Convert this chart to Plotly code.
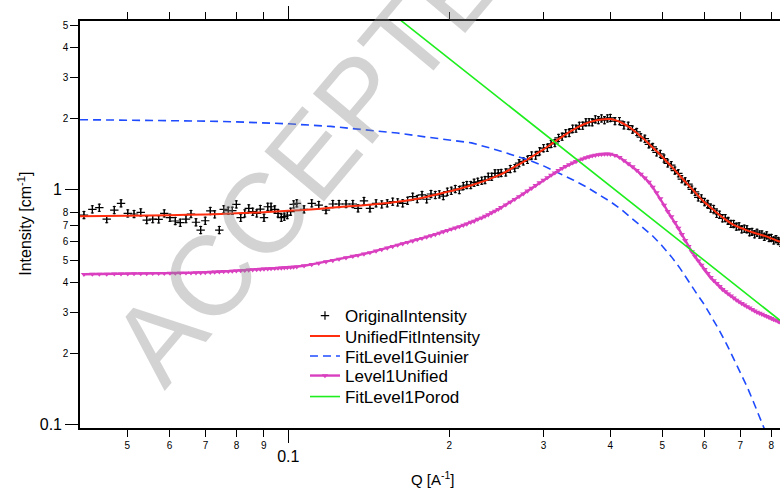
import math
import plotly.graph_objects as go

# ---------------- data ----------------
Q = [0.04149, 0.04302, 0.04433, 0.04576, 0.04728, 0.04867, 0.05010, 0.05147, 0.05298, 0.05436,
     0.05578, 0.05723, 0.05863, 0.06008, 0.06147, 0.06281, 0.06437, 0.06577, 0.06720, 0.06857,
     0.06994, 0.07147, 0.07284, 0.07430, 0.07572, 0.07723, 0.07858, 0.07995, 0.08147, 0.08290,
     0.08435, 0.08579, 0.08728, 0.08865, 0.09006, 0.09152, 0.09283, 0.09432, 0.09566, 0.09703,
     0.09829, 0.09957, 0.1010, 0.1023, 0.1037, 0.1070, 0.1106, 0.1140, 0.1176, 0.1211,
     0.1244, 0.1282, 0.1320, 0.1350, 0.1385, 0.1421, 0.1459, 0.1495, 0.1531, 0.1567,
     0.1601, 0.1636, 0.1671, 0.1708, 0.1742, 0.1778, 0.1814, 0.1848, 0.1883, 0.1916,
     0.1949, 0.1983, 0.2017, 0.2052, 0.2088, 0.2124, 0.2156, 0.2193, 0.2225, 0.2260,
     0.2299, 0.2332, 0.2365, 0.2400, 0.2434, 0.2469,
     0.250, 0.255, 0.260, 0.265, 0.270, 0.275, 0.280, 0.285, 0.290, 0.295,
     0.300, 0.305, 0.310, 0.315, 0.320, 0.325, 0.330, 0.335, 0.340, 0.345,
     0.350, 0.355, 0.360, 0.365, 0.370, 0.375, 0.380, 0.385, 0.390, 0.395, 0.400,
     0.408, 0.416, 0.424, 0.432, 0.440, 0.448, 0.456, 0.464, 0.472, 0.480,
     0.488, 0.496, 0.504, 0.512, 0.520, 0.528, 0.536, 0.544, 0.552, 0.560,
     0.568, 0.576, 0.584, 0.592, 0.600, 0.608, 0.616, 0.624, 0.632, 0.640,
     0.648, 0.656, 0.664, 0.672, 0.680, 0.688, 0.696, 0.704, 0.712, 0.720,
     0.728, 0.736, 0.744, 0.752, 0.760, 0.768, 0.776, 0.784, 0.792, 0.800,
     0.808, 0.816, 0.824, 0.832]

I_ORIG = [0.777, 0.822, 0.835, 0.747, 0.816, 0.872, 0.790, 0.785, 0.798, 0.740,
          0.747, 0.745, 0.790, 0.757, 0.733, 0.721, 0.747, 0.785, 0.724, 0.671,
          0.735, 0.809, 0.783, 0.671, 0.822, 0.811, 0.811, 0.863, 0.757, 0.790,
          0.830, 0.803, 0.790, 0.824, 0.757, 0.843, 0.843, 0.822, 0.790, 0.757,
          0.765, 0.777, 0.803, 0.863, 0.872, 0.822, 0.872, 0.857, 0.816, 0.866,
          0.866, 0.866, 0.866, 0.830, 0.892, 0.830, 0.872, 0.863, 0.872, 0.886,
          0.880, 0.872, 0.894, 0.930, 0.909, 0.946, 0.907, 0.955, 0.946, 0.952,
          0.936, 0.977, 0.986, 1.003, 0.993, 1.033, 1.043, 1.043, 1.067, 1.077,
          1.088, 1.095, 1.131, 1.131, 1.170, 1.170,
          1.174, 1.180, 1.220, 1.231, 1.292, 1.315, 1.336, 1.393, 1.392, 1.451,
          1.496, 1.503, 1.560, 1.574, 1.655, 1.675, 1.731, 1.737, 1.811, 1.813,
          1.863, 1.866, 1.929, 1.931, 1.930, 1.985, 1.970, 2.003, 1.969, 2.003, 2.012,
          1.951, 1.951, 1.872, 1.865, 1.796, 1.754, 1.666, 1.642, 1.554, 1.515,
          1.437, 1.415, 1.352, 1.289, 1.267, 1.202, 1.170, 1.105, 1.082, 1.052,
          0.998, 0.975, 0.924, 0.915, 0.882, 0.867, 0.829, 0.825, 0.787, 0.780,
          0.753, 0.754, 0.734, 0.713, 0.712, 0.694, 0.696, 0.676, 0.680, 0.676,
          0.657, 0.659, 0.644, 0.653, 0.642, 0.643, 0.628, 0.637, 0.621, 0.621,
          0.606, 0.614, 0.603, 0.593]

I_LEVEL1 = [0.435, 0.436, 0.436, 0.436, 0.437, 0.437, 0.437, 0.438, 0.438, 0.438,
            0.439, 0.439, 0.439, 0.440, 0.440, 0.441, 0.441, 0.441, 0.442, 0.442,
            0.443, 0.444, 0.445, 0.446, 0.447, 0.448, 0.449, 0.450, 0.451, 0.452,
            0.454, 0.455, 0.456, 0.457, 0.458, 0.459, 0.460, 0.461, 0.462, 0.463,
            0.464, 0.465, 0.466, 0.467, 0.468, 0.473, 0.479, 0.485, 0.492, 0.498,
            0.505, 0.512, 0.519, 0.524, 0.531, 0.538, 0.547, 0.555, 0.563, 0.571,
            0.579, 0.587, 0.595, 0.603, 0.611, 0.619, 0.627, 0.635, 0.643, 0.651,
            0.660, 0.668, 0.677, 0.685, 0.694, 0.704, 0.712, 0.725, 0.732, 0.746,
            0.756, 0.768, 0.780, 0.795, 0.808, 0.822,
            0.837, 0.859, 0.882, 0.907, 0.931, 0.957, 0.984, 1.011, 1.039, 1.067,
            1.095, 1.122, 1.150, 1.176, 1.203, 1.228, 1.252, 1.274, 1.296, 1.314,
            1.332, 1.348, 1.364, 1.376, 1.389, 1.397, 1.405, 1.410, 1.413, 1.414, 1.411,
            1.396, 1.368, 1.325, 1.286, 1.248, 1.205, 1.161, 1.118, 1.074, 1.022,
            0.967, 0.912, 0.857, 0.805, 0.765, 0.724, 0.684, 0.643, 0.606, 0.572,
            0.543, 0.518, 0.496, 0.476, 0.456, 0.439, 0.422, 0.409, 0.398, 0.386,
            0.375, 0.367, 0.359, 0.352, 0.345, 0.338, 0.332, 0.327, 0.322, 0.317,
            0.313, 0.308, 0.304, 0.300, 0.297, 0.294, 0.291, 0.288, 0.285, 0.282,
            0.279, 0.277, 0.274, 0.271]

Q_FIT = [0.0408, 0.05, 0.06, 0.07, 0.08, 0.09, 0.10, 0.11, 0.12, 0.13,
         0.14, 0.15, 0.16, 0.17, 0.18, 0.19, 0.20, 0.21, 0.22, 0.23,
         0.24, 0.25, 0.26, 0.27, 0.28, 0.29, 0.30, 0.31, 0.32, 0.33,
         0.34, 0.35, 0.36, 0.37, 0.38, 0.39, 0.40, 0.41, 0.42, 0.43,
         0.44, 0.45, 0.46, 0.47, 0.48, 0.49, 0.50, 0.51, 0.52, 0.53,
         0.54, 0.55, 0.56, 0.57, 0.58, 0.59, 0.60, 0.62, 0.64, 0.66,
         0.68, 0.70, 0.72, 0.74, 0.76, 0.78, 0.80, 0.83]
I_FIT = [0.768, 0.772, 0.776, 0.782, 0.790, 0.799, 0.810, 0.821, 0.834, 0.846,
         0.857, 0.870, 0.885, 0.903, 0.925, 0.953, 0.980, 1.008, 1.040, 1.075,
         1.115, 1.160, 1.216, 1.278, 1.342, 1.410, 1.480, 1.556, 1.635, 1.714,
         1.786, 1.852, 1.906, 1.945, 1.973, 1.988, 1.990, 1.964, 1.920, 1.862,
         1.798, 1.725, 1.651, 1.577, 1.507, 1.441, 1.375, 1.310, 1.252, 1.195,
         1.139, 1.087, 1.041, 0.997, 0.954, 0.915, 0.880, 0.826, 0.777, 0.738,
         0.706, 0.686, 0.669, 0.655, 0.643, 0.632, 0.618, 0.598]

Q_GUIN = [0.0408, 0.05, 0.06, 0.07, 0.08, 0.09, 0.10, 0.12, 0.14, 0.16,
          0.18, 0.20, 0.22, 0.24, 0.26, 0.28, 0.30, 0.32, 0.34, 0.36,
          0.38, 0.40, 0.42, 0.44, 0.46, 0.48, 0.50, 0.52, 0.54, 0.56,
          0.58, 0.60, 0.62, 0.64, 0.66, 0.68, 0.70, 0.72, 0.74, 0.76,
          0.78, 0.80]
I_GUIN = [1.978, 1.972, 1.963, 1.951, 1.936, 1.918, 1.900, 1.852, 1.795, 1.735,
          1.672, 1.615, 1.576, 1.492, 1.413, 1.337, 1.258, 1.176, 1.099, 1.027,
          0.955, 0.886, 0.818, 0.750, 0.691, 0.633, 0.574, 0.517, 0.461, 0.405,
          0.360, 0.322, 0.284, 0.250, 0.219, 0.190, 0.166, 0.145, 0.125, 0.108,
          0.093, 0.079]

Q_POROD = [0.16, 0.20, 0.30, 0.40, 0.50, 0.60, 0.70, 0.83]
I_POROD = [5.37, 3.60, 1.73, 1.03, 0.691, 0.497, 0.377, 0.277]

X_MINOR_TICKS = [0.05, 0.06, 0.07, 0.08, 0.09, 0.2, 0.3, 0.4, 0.5, 0.6, 0.7, 0.8]
X_MINOR_LABELS = ["5", "6", "7", "8", "9", "2", "3", "4", "5", "6", "7", "8"]
X_MAJOR_TICKS = [0.1]
X_MAJOR_LABELS = ["0.1"]
Y_MINOR_TICKS = [0.2, 0.3, 0.4, 0.5, 0.6, 0.7, 0.8, 2, 3, 4, 5]
Y_MINOR_LABELS = ["2", "3", "4", "5", "6", "7", "8", "2", "3", "4", "5"]
Y_MAJOR_TICKS = [0.1, 1]
Y_MAJOR_LABELS = ["0.1", "1"]
X_RANGE = [0.04079, 0.8302]
Y_RANGE = [0.09645, 5.202]

LEGEND_NAMES = ["OriginalIntensity", "UnifiedFitIntensity", "FitLevel1Guinier",
                "Level1Unified", "FitLevel1Porod"]

# ---------------- figure ----------------
FONT = "Liberation Sans, Arial, sans-serif"
fig = go.Figure()

fig.add_trace(go.Scatter(
    x=Q, y=I_ORIG, mode="markers", name=LEGEND_NAMES[0], legend="legend",
    marker=dict(symbol="cross-thin", size=6, color="black",
                line=dict(width=1.2, color="black")),
    error_y=dict(type="percent", value=3.5, color="black", thickness=1, width=1.5),
))
fig.add_trace(go.Scatter(
    x=Q_FIT, y=I_FIT, mode="lines", name=LEGEND_NAMES[1], legend="legend2",
    line=dict(color="#ff2e0e", width=2, shape="spline", smoothing=0.6),
))
fig.add_trace(go.Scatter(
    x=Q_GUIN, y=I_GUIN, mode="lines", name=LEGEND_NAMES[2], legend="legend3",
    line=dict(color="#1f4bff", width=1.6, dash="8px,5px"),
))
fig.add_trace(go.Scatter(
    x=Q, y=I_LEVEL1, mode="lines+markers", name=LEGEND_NAMES[3], legend="legend4",
    line=dict(color="#d93fbf", width=2.4),
    marker=dict(symbol="triangle-down", size=5.5, color="#d93fbf"),
))
fig.add_trace(go.Scatter(
    x=Q_POROD, y=I_POROD, mode="lines", name=LEGEND_NAMES[4], legend="legend5",
    line=dict(color="#1eee1e", width=1.6),
    xaxis="x2", yaxis="y2",
))

xr = [math.log10(v) for v in X_RANGE]
yr = [math.log10(v) for v in Y_RANGE]

common = dict(type="log", showgrid=False, zeroline=False, showline=True,
              linecolor="black", linewidth=1.6, ticks="outside",
              tickcolor="black", tickwidth=1.3, tickmode="array")

def leg(ytop):
    return dict(x=0.3214, y=ytop, xanchor="left", yanchor="top",
                bgcolor="rgba(0,0,0,0)", borderwidth=0,
                font=dict(size=17, family=FONT, color="black"))

fig.update_layout(
    width=780, height=491,
    margin=dict(l=80, r=0, t=21, b=63),
    paper_bgcolor="white", plot_bgcolor="white",
    font=dict(family=FONT, color="black"),
    xaxis=dict(common, range=xr, tickvals=X_MINOR_TICKS, ticktext=X_MINOR_LABELS,
               ticklen=7, tickfont=dict(size=10, family=FONT), mirror="ticks"),
    xaxis2=dict(common, range=xr, tickvals=X_MAJOR_TICKS, ticktext=X_MAJOR_LABELS,
                ticklen=13, tickfont=dict(size=16, family=FONT), mirror="ticks",
                overlaying="x", anchor="y2", side="bottom"),
    yaxis=dict(common, range=yr, tickvals=Y_MINOR_TICKS, ticktext=Y_MINOR_LABELS,
               ticklen=8, tickfont=dict(size=10, family=FONT), mirror=False),
    yaxis2=dict(common, range=yr, tickvals=Y_MAJOR_TICKS, ticktext=Y_MAJOR_LABELS,
                ticklen=13, tickfont=dict(size=16, family=FONT), mirror=False,
                overlaying="y", anchor="x2", side="left"),
    legend=leg(0.3194),
    legend2=leg(0.2690),
    legend3=leg(0.2199),
    legend4=leg(0.1720),
    legend5=leg(0.1204),
    showlegend=True,
)

fig.add_annotation(text="Q [A<sup>-1</sup>]", xref="paper", yref="paper",
                   x=0.504, y=-0.125, showarrow=False, xanchor="center", yanchor="middle",
                   font=dict(size=15, family=FONT))
fig.add_annotation(text="Intensity [cm<sup>-1</sup>]", xref="paper", yref="paper",
                   x=-0.079, y=0.501, showarrow=False, textangle=-90,
                   xanchor="center", yanchor="middle",
                   font=dict(size=16, family=FONT))
fig.add_annotation(text="ACCEPTED", xref="paper", yref="paper",
                   x=0.36, y=0.73, showarrow=False, textangle=-50,
                   xanchor="center", yanchor="middle",
                   font=dict(size=113, family=FONT, color="rgba(140,140,140,0.38)"))

fig.write_html(
    "out.html",
    config={"displayModeBar": False},
    post_script="document.body.style.margin='0';document.body.style.overflow='hidden';",
)
